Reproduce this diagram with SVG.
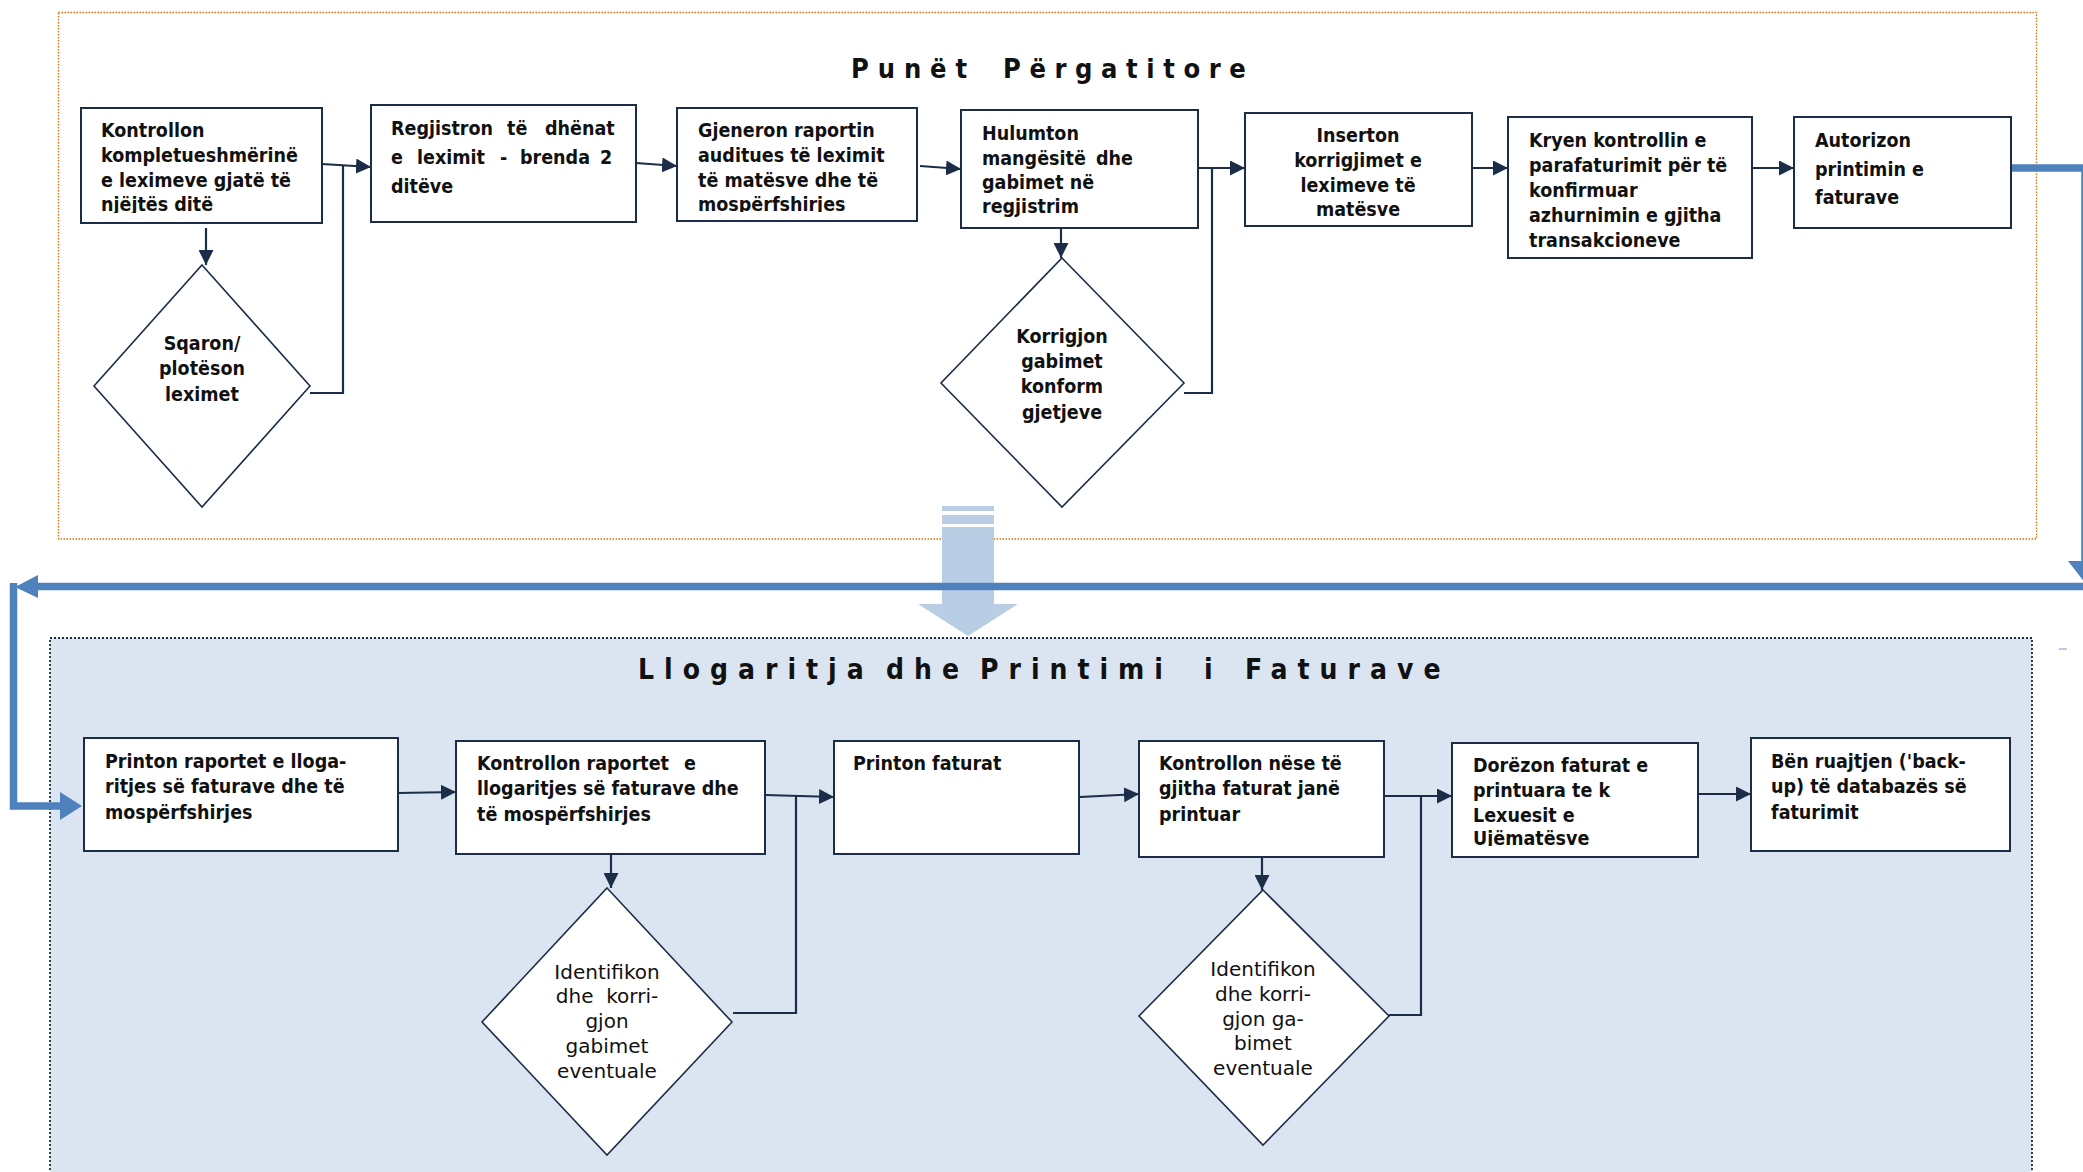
<svg xmlns="http://www.w3.org/2000/svg" width="2083" height="1172" viewBox="0 0 2083 1172">
<style>
.box{fill:#fff;stroke:#1C2D48;stroke-width:2}
.dia{fill:#fff;stroke:#1C2D48;stroke-width:1.6}
.bt{font-family:"DejaVu Sans Condensed","DejaVu Sans",sans-serif;font-stretch:condensed;font-weight:bold;font-size:19.5px;fill:#111}
.rt{font-family:"DejaVu Sans","Liberation Sans",sans-serif;font-size:20px;fill:#111}
.tt{font-family:"DejaVu Sans Condensed","DejaVu Sans",sans-serif;font-stretch:condensed;font-weight:bold;fill:#111}
.mid{text-anchor:middle}
.con{fill:none;stroke:#1C2D48;stroke-width:2.2}
.blue{fill:none;stroke:#4F81BD;stroke-width:7.5}
.bluef{fill:#4F81BD}
</style>
<defs>
<marker id="ah" viewBox="0 0 15 15" refX="15" refY="7.5" markerWidth="15" markerHeight="15" markerUnits="userSpaceOnUse" orient="auto">
<path d="M0,0 L15,7.5 L0,15 Z" fill="#1C2D48"/>
</marker>
<clipPath id="cB1"><rect x="81" y="108" width="241" height="105"/></clipPath>
<clipPath id="cB3"><rect x="677" y="108" width="240" height="104"/></clipPath>
<clipPath id="cL5"><rect x="1452" y="743" width="246" height="103"/></clipPath>
</defs>

<rect width="2083" height="1172" fill="#fff"/>

<g id="section-top">
<rect x="58.5" y="12.5" width="1978" height="526.5" fill="none" stroke="#E46C0A" stroke-width="1.3" stroke-dasharray="1.5,1.5"/>
<text class="tt" font-size="27" y="78"><tspan x="851" style="letter-spacing:8.9px">Punët</tspan><tspan x="1003" style="letter-spacing:8.6px">Përgatitore</tspan></text>
</g>

<g id="section-bottom">
<rect x="50" y="638" width="1982" height="560" fill="#DBE5F1" stroke="#1F2D3D" stroke-width="1.8" stroke-dasharray="2,2"/>
<text class="tt" font-size="28" y="679" style="letter-spacing:10px"><tspan x="638">Llogaritja</tspan><tspan x="886">dhe</tspan><tspan x="980">Printimi</tspan><tspan x="1204">i</tspan><tspan x="1245">Faturave</tspan></text>
</g>

<g id="block-arrow">
<rect x="942" y="506" width="52" height="5" fill="#B9CDE5"/>
<rect x="942" y="515" width="52" height="9" fill="#B9CDE5"/>
<path d="M942,527 H994 V604 H1018 L968,636 L918,604 H942 Z" fill="#B9CDE5"/>
</g>

<g id="connectors">
<path class="con" d="M322,164 L371,167" marker-end="url(#ah)"/>
<path class="con" d="M310,393 H343 V165"/>
<path class="con" d="M206,228 V265" marker-end="url(#ah)"/>
<path class="con" d="M636,163 L677,166" marker-end="url(#ah)"/>
<path class="con" d="M920,166 L961,169" marker-end="url(#ah)"/>
<path class="con" d="M1198,168 L1245,168" marker-end="url(#ah)"/>
<path class="con" d="M1184,393 H1212 V168"/>
<path class="con" d="M1061,228 V258" marker-end="url(#ah)"/>
<path class="con" d="M1472,168 L1508,168" marker-end="url(#ah)"/>
<path class="con" d="M1752,168 L1794,168" marker-end="url(#ah)"/>

<path class="con" d="M398,793 L456,792" marker-end="url(#ah)"/>
<path class="con" d="M765,795 L834,797" marker-end="url(#ah)"/>
<path class="con" d="M733,1013 H796 V795"/>
<path class="con" d="M611,854 V888" marker-end="url(#ah)"/>
<path class="con" d="M1080,797 L1139,794" marker-end="url(#ah)"/>
<path class="con" d="M1384,796 L1452,796" marker-end="url(#ah)"/>
<path class="con" d="M1389,1015 H1421 V796"/>
<path class="con" d="M1262,857 V890" marker-end="url(#ah)"/>
<path class="con" d="M1698,794 L1751,794" marker-end="url(#ah)"/>

<path class="blue" d="M2010,168 H2085 V566"/>
<path class="bluef" d="M2068,561 L2104,561 L2086,584 Z"/>
<path class="blue" d="M2083,586.5 H36"/>
<path class="bluef" d="M15,587 L38,575 L38,598 Z"/>
<path class="blue" d="M13.5,583 V806 H62"/>
<path class="bluef" d="M60,792 L82,806 L60,820 Z"/>
<line x1="2059" y1="649" x2="2067" y2="649" stroke="#B9CDE5" stroke-width="2"/>
</g>

<g id="n-kontrollon">
<rect class="box" x="81" y="108" width="241" height="115"/>
<text class="bt" clip-path="url(#cB1)"><tspan x="101" y="137">Kontrollon</tspan><tspan x="101" y="162">kompletueshmërinë</tspan><tspan x="101" y="187">e leximeve gjatë të</tspan><tspan x="101" y="211">njëjtës ditë</tspan></text>
</g>

<g id="n-regjistron">
<rect class="box" x="371" y="105" width="265" height="117"/>
<text class="bt"><tspan x="391" y="135">Regjistron</tspan><tspan x="507" y="135">të</tspan><tspan x="545" y="135">dhënat</tspan><tspan x="391" y="164">e</tspan><tspan x="417" y="164">leximit</tspan><tspan x="500" y="164">-</tspan><tspan x="520" y="164">brenda</tspan><tspan x="600" y="164">2</tspan><tspan x="391" y="193">ditëve</tspan></text>
</g>

<g id="n-gjeneron">
<rect class="box" x="677" y="108" width="240" height="113"/>
<text class="bt" clip-path="url(#cB3)"><tspan x="698" y="137">Gjeneron raportin</tspan><tspan x="698" y="162">auditues të leximit</tspan><tspan x="698" y="187">të matësve dhe të</tspan><tspan x="698" y="211">mospërfshirjes</tspan></text>
</g>

<g id="n-hulumton">
<rect class="box" x="961" y="110" width="237" height="118"/>
<text class="bt"><tspan x="982" y="140">Hulumton</tspan><tspan x="982" y="165">mangësitë</tspan><tspan x="1096" y="165">dhe</tspan><tspan x="982" y="189">gabimet në</tspan><tspan x="982" y="213">regjistrim</tspan></text>
</g>

<g id="n-inserton">
<rect class="box" x="1245" y="113" width="227" height="113"/>
<text class="bt mid"><tspan x="1358" y="142">Inserton</tspan><tspan x="1358" y="167">korrigjimet e</tspan><tspan x="1358" y="192">leximeve të</tspan><tspan x="1358" y="216">matësve</tspan></text>
</g>

<g id="n-kryen">
<rect class="box" x="1508" y="117" width="244" height="141"/>
<text class="bt"><tspan x="1529" y="147">Kryen kontrollin e</tspan><tspan x="1529" y="172">parafaturimit për të</tspan><tspan x="1529" y="197">konfirmuar</tspan><tspan x="1529" y="222">azhurnimin e gjitha</tspan><tspan x="1529" y="247">transakcioneve</tspan></text>
</g>

<g id="n-autorizon">
<rect class="box" x="1794" y="117" width="217" height="111"/>
<text class="bt"><tspan x="1815" y="147">Autorizon</tspan><tspan x="1815" y="176">printimin e</tspan><tspan x="1815" y="204">faturave</tspan></text>
</g>

<g id="n-sqaron">
<polygon class="dia" points="202,265 310,386 202,507 94,386"/>
<text class="bt mid"><tspan x="202" y="350">Sqaron/</tspan><tspan x="202" y="375">plotëson</tspan><tspan x="202" y="401">leximet</tspan></text>
</g>

<g id="n-korrigjon">
<polygon class="dia" points="1062,258 1184,383 1062,507 941,383"/>
<text class="bt mid"><tspan x="1062" y="343">Korrigjon</tspan><tspan x="1062" y="368">gabimet</tspan><tspan x="1062" y="393">konform</tspan><tspan x="1062" y="419">gjetjeve</tspan></text>
</g>

<g id="n-printon-raportet">
<rect class="box" x="84" y="738" width="314" height="113"/>
<text class="bt"><tspan x="105" y="768">Printon raportet e lloga-</tspan><tspan x="105" y="793">ritjes së faturave dhe të</tspan><tspan x="105" y="819">mospërfshirjes</tspan></text>
</g>

<g id="n-kontrollon-raportet">
<rect class="box" x="456" y="741" width="309" height="113"/>
<text class="bt"><tspan x="477" y="770">Kontrollon raportet</tspan><tspan x="684" y="770">e</tspan><tspan x="477" y="795">llogaritjes së faturave dhe</tspan><tspan x="477" y="821">të mospërfshirjes</tspan></text>
</g>

<g id="n-printon-faturat">
<rect class="box" x="834" y="741" width="245" height="113"/>
<text class="bt"><tspan x="853" y="770">Printon faturat</tspan></text>
</g>

<g id="n-kontrollon-nese">
<rect class="box" x="1139" y="741" width="245" height="116"/>
<text class="bt"><tspan x="1159" y="770">Kontrollon nëse të</tspan><tspan x="1159" y="795">gjitha faturat janë</tspan><tspan x="1159" y="821">printuar</tspan></text>
</g>

<g id="n-dorezon">
<rect class="box" x="1452" y="743" width="246" height="114"/>
<text class="bt" clip-path="url(#cL5)"><tspan x="1473" y="772">Dorëzon faturat e</tspan><tspan x="1473" y="797">printuara te k</tspan><tspan x="1473" y="822">Lexuesit e</tspan><tspan x="1473" y="845">Ujëmatësve</tspan></text>
</g>

<g id="n-ben-ruajtjen">
<rect class="box" x="1751" y="738" width="259" height="113"/>
<text class="bt"><tspan x="1771" y="768">Bën ruajtjen ('back-</tspan><tspan x="1771" y="793">up) të databazës së</tspan><tspan x="1771" y="819">faturimit</tspan></text>
</g>

<g id="n-identifikon-1">
<polygon class="dia" points="607,888 732,1022 607,1155 482,1022"/>
<text class="rt mid" xml:space="preserve"><tspan x="607" y="979">Identifikon</tspan><tspan x="607" y="1003">dhe  korri-</tspan><tspan x="607" y="1028">gjon</tspan><tspan x="607" y="1053">gabimet</tspan><tspan x="607" y="1078">eventuale</tspan></text>
</g>

<g id="n-identifikon-2">
<polygon class="dia" points="1263,890 1389,1016 1263,1145 1139,1016"/>
<text class="rt mid"><tspan x="1263" y="976">Identifikon</tspan><tspan x="1263" y="1001">dhe korri-</tspan><tspan x="1263" y="1026">gjon ga-</tspan><tspan x="1263" y="1050">bimet</tspan><tspan x="1263" y="1075">eventuale</tspan></text>
</g>
</svg>
